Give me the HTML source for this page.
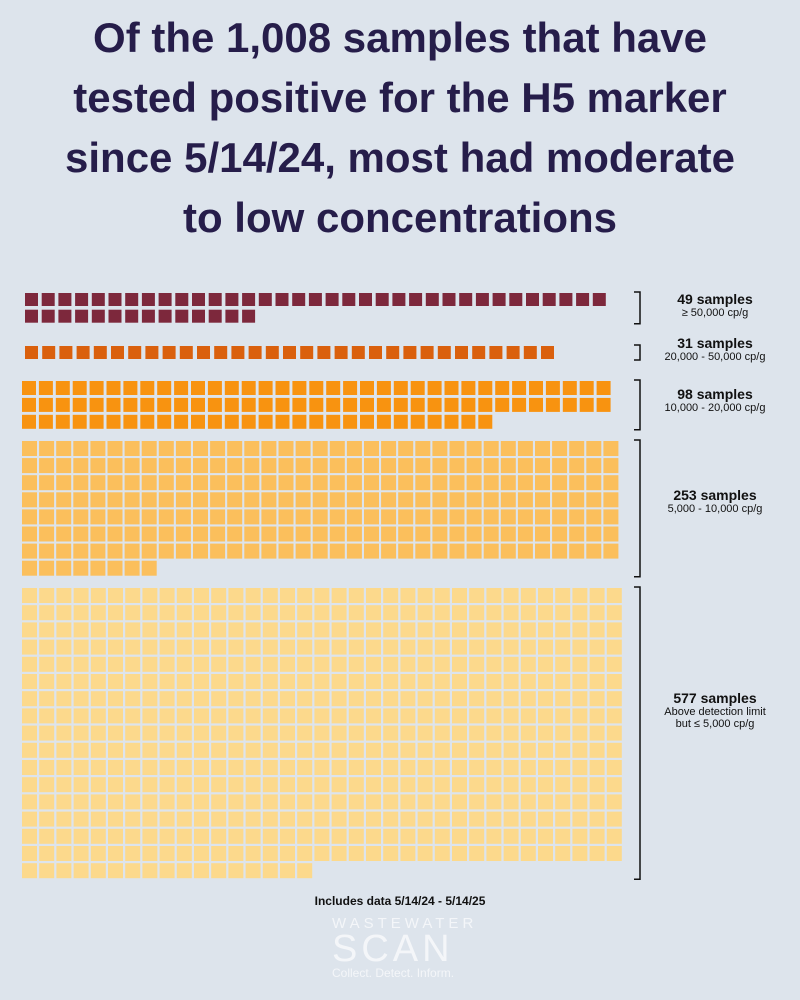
<!DOCTYPE html>
<html><head><meta charset="utf-8"><style>
body{margin:0;width:800px;height:1000px;background:#dde4ec;font-family:"Liberation Sans",sans-serif;overflow:hidden;position:relative}
#title{position:absolute;top:8px;left:0;width:800px;text-align:center;font-weight:bold;font-size:42px;line-height:60px;color:#261d4a}
.lab{position:absolute;left:640px;width:150px;text-align:center;color:#111;font-size:11px}
.lab b{display:block;font-size:14px}
</style></head><body>
<div id="title">Of the 1,008 samples that have<br>tested positive for the H5 marker<br>since 5/14/24, most had moderate<br>to low concentrations</div>
<svg id="chart" width="800" height="1000" style="position:absolute;left:0;top:0"></svg>
<div class="lab" style="top:291px"><b>49 samples</b>≥ 50,000 cp/g</div>
<div class="lab" style="top:335px"><b>31 samples</b>20,000 - 50,000 cp/g</div>
<div class="lab" style="top:386px"><b>98 samples</b>10,000 - 20,000 cp/g</div>
<div class="lab" style="top:487px"><b>253 samples</b>5,000 - 10,000 cp/g</div>
<div class="lab" style="top:690px"><b>577 samples</b>Above detection limit<br>but ≤ 5,000 cp/g</div>
<div style="position:absolute;top:894px;left:0;width:800px;text-align:center;font-size:12px;font-weight:bold;color:#111">Includes data 5/14/24 - 5/14/25</div>
<div style="position:absolute;top:916px;left:332px;width:140px;color:#f4f6f9;text-align:left">
<div style="font-size:15px;letter-spacing:4px;line-height:16px">WASTEWATER</div>
<div style="font-size:38px;letter-spacing:4px;line-height:34px;font-weight:300">SCAN</div>
<div style="font-size:12px;line-height:14px">Collect. Detect. Inform.</div></div>
<script>
const categories=["≥50,000","20,000-50,000","10,000-20,000","5,000-10,000","≤5,000"];
const counts=[49,31,98,253,577];
const perRow=[35,31,35,35,35];
const colors=["#7d283c","#da600d","#f89310","#fbbf5c","#fcd98c"];
const yStart=[293,346,381,441,588];
const pitch=[16.7,17.2,16.9,17.1,17.2];
const size=[13,13,14,15,15];
const xStart=[25,25,22,22,22];
const svg=document.getElementById('chart');
const NS="http://www.w3.org/2000/svg";
counts.forEach((n,g)=>{
  const rows=Math.ceil(n/perRow[g]);
  for(let i=0;i<n;i++){
    const r=document.createElementNS(NS,'rect');
    r.setAttribute('x',xStart[g]+(i%perRow[g])*pitch[g]);
    r.setAttribute('y',yStart[g]+Math.floor(i/perRow[g])*pitch[g]);
    r.setAttribute('width',size[g]);r.setAttribute('height',size[g]);
    r.setAttribute('fill',colors[g]);
    
    
    svg.appendChild(r);
  }
  const y1=yStart[g]-1,y2=yStart[g]+(rows-1)*pitch[g]+size[g]+1;
  const p=document.createElementNS(NS,'path');
  p.setAttribute('d',`M634 ${y1}H640V${y2}H634`);
  p.setAttribute('fill','none');p.setAttribute('stroke','#111');p.setAttribute('stroke-width','1.5');
  
  
  svg.appendChild(p);
});
</script>
</body></html>
